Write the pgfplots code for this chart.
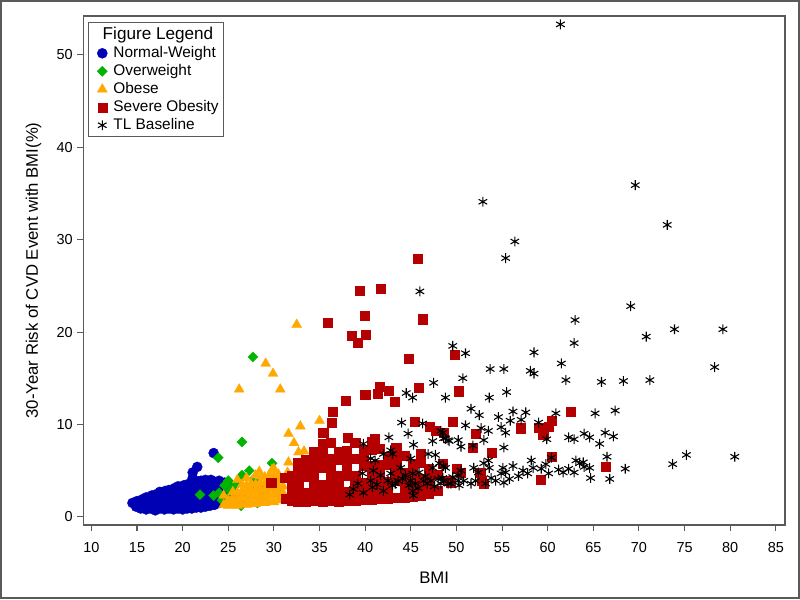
\documentclass[border=0pt]{standalone}
\usepackage{pgfplots}
\pgfplotsset{compat=1.18}
\usepackage{fontspec}
\setmainfont{Liberation Sans}
\definecolor{nwblue}{HTML}{0000B4}
\definecolor{owgreen}{HTML}{00B400}
\definecolor{oborange}{HTML}{FFA800}
\definecolor{sored}{HTML}{B40000}
\definecolor{framegray}{HTML}{5A5A5A}
\begin{document}
\begin{tikzpicture}
\begin{axis}[
  name=ax,
  scale only axis,
  width=524pt, height=380pt,
  xmin=9.12, xmax=86, ymin=-0.87, ymax=54.2,
  xtick={10,15,...,85}, ytick={0,10,...,50},
  tick align=outside, xtick pos=bottom, ytick pos=left,
  major tick length=4.5pt,
  axis line style={draw=framegray, line width=1.1pt},
  tick style={draw=framegray, line width=0.8pt},
  tick label style={font=\fontsize{10.8}{12}\selectfont},
  xticklabel style={yshift=-5pt},
  /pgf/number format/assume math mode=true,
  xlabel={BMI},
  ylabel={30-Year Risk of CVD Event with BMI(\%)},
  label style={font=\fontsize{12.5}{14}\selectfont},
  xlabel style={yshift=-7.5pt},
  ylabel style={yshift=4.5pt},
  legend style={at={(0.007,0.988)}, anchor=north west, draw=framegray,
    line width=0.9pt, font=\fontsize{11.5}{12}\selectfont, inner sep=1.5pt,
    row sep=-0.4pt, column sep=2.5pt},
  legend cell align=left,
]
\addlegendimage{empty legend}
\addlegendentry{\hspace{-8pt}\fontsize{12.8}{14}\selectfont Figure Legend}

% Normal-Weight
\addplot[only marks, mark=*, mark size=3.8pt, color=nwblue, line width=0.2pt] coordinates {
(14.5,1.5) (14.9,1.1) (15.0,1.7) (15.4,0.9) (15.5,1.4) (15.6,1.9)
(16.0,0.8) (16.0,1.3) (16.1,1.8) (16.0,2.1) (16.5,0.9) (16.5,1.4) (16.4,1.9) (16.6,2.3)
(17.0,0.7) (17.0,1.3) (17.1,1.8) (17.0,2.4) (17.5,0.9) (17.5,1.4) (17.4,1.9) (17.6,2.4) (17.5,2.7)
(18.0,0.8) (18.0,1.3) (18.1,1.8) (18.0,2.3) (18.1,2.8) (18.5,0.9) (18.5,1.4) (18.4,1.9) (18.6,2.4) (18.5,2.9)
(19.0,0.8) (19.0,1.3) (19.1,1.8) (19.0,2.3) (18.9,2.8) (19.1,3.1)
(19.5,0.9) (19.5,1.4) (19.4,1.9) (19.6,2.4) (19.5,2.9) (19.5,3.3)
(20.0,0.8) (20.0,1.4) (20.1,1.9) (20.0,2.4) (20.0,2.9) (20.1,3.4)
(20.5,0.9) (20.5,1.4) (20.4,1.9) (20.6,2.4) (20.5,2.9) (20.5,3.5)
(21.0,0.9) (21.0,1.4) (21.1,1.9) (21.0,2.4) (21.0,2.9) (21.1,3.4) (21.0,3.8)
(21.5,1.0) (21.5,1.5) (21.4,2.0) (21.6,2.5) (21.5,3.0) (21.5,3.5) (21.5,3.9)
(22.0,1.0) (22.0,1.5) (22.1,2.0) (22.0,2.5) (22.0,3.0) (22.1,3.5) (22.0,3.9)
(22.5,1.1) (22.5,1.6) (22.4,2.1) (22.6,2.6) (22.5,3.1) (22.5,3.6) (22.5,4.0)
(23.0,1.2) (23.0,1.7) (23.1,2.2) (23.0,2.7) (23.0,3.2) (23.0,3.7) (23.1,4.0)
(23.5,1.3) (23.5,1.8) (23.4,2.3) (23.6,2.8) (23.5,3.3) (23.5,3.8)
(24.0,1.5) (24.0,2.0) (24.1,2.5) (24.0,3.0) (24.0,3.5) (24.0,3.9)
(24.5,2.0) (24.5,2.6) (24.5,3.2) (24.6,3.7) (25.0,2.8) (25.1,3.5)
(21.1,4.2) (21.1,4.8) (21.6,5.4) (23.4,6.9)
};
\addlegendentry{Normal-Weight}

% Overweight
\addplot[only marks, mark=square*, mark options={rotate=45}, mark size=2.7pt, color=owgreen, line width=0.2pt] coordinates {
(21.9,2.4) (23.4,2.3) (24.0,2.6) (24.3,1.8) (24.9,2.0) (25.2,2.8) (25.5,3.2) (25.0,3.9)
(24.6,3.4) (25.8,2.4) (26.0,1.6) (26.1,3.7) (26.5,4.5) (26.7,2.5) (27.0,1.9) (27.4,3.2)
(27.7,4.0) (28.0,3.9) (28.2,1.5) (28.6,3.0) (29.0,2.2) (29.5,3.5) (29.8,5.8) (23.9,6.4)
(26.5,8.1) (27.7,17.3) (26.4,1.2) (27.3,5.0) (30.3,2.8)
};
\addlegendentry{Overweight}

% Obese
\addplot[only marks, mark=triangle*, mark size=4.3pt, color=oborange, line width=0.2pt] coordinates {
(32.5,20.8) (29.1,16.6) (29.9,15.5) (26.2,13.8) (30.7,13.8) (35.0,10.4) (32.9,9.8)
(31.6,9.0) (32.2,8.0) (32.7,7.0) (33.3,7.1) (31.6,5.9) (28.4,4.9) (29.8,5.1)
(24.5,1.3) (24.5,2.3) (25.0,1.2) (25.0,1.8) (25.5,1.4) (25.5,2.0) (25.5,2.7)
(26.0,1.2) (26.0,1.9) (26.0,2.6) (26.0,4.0) (26.5,1.4) (26.5,2.1) (26.5,2.8) (26.5,3.5)
(27.0,1.3) (27.0,2.0) (27.0,2.7) (27.0,3.4) (27.0,4.2) (27.5,1.5) (27.5,2.2) (27.5,2.9) (27.5,3.6)
(28.0,1.4) (28.0,2.1) (28.0,2.8) (28.0,3.5) (28.0,4.5) (28.5,1.6) (28.5,2.3) (28.5,3.0) (28.5,3.7) (28.5,4.4)
(29.0,1.5) (29.0,2.2) (29.0,2.9) (29.0,3.6) (29.0,4.3) (29.5,1.7) (29.5,2.4) (29.5,3.1) (29.5,3.8) (29.5,4.5)
(30.0,1.6) (30.0,2.3) (30.0,3.0) (30.0,3.7) (30.0,4.4) (30.0,5.2)
(30.5,1.8) (30.5,2.5) (30.5,3.2) (30.5,3.9) (30.5,4.6)
(31.0,1.9) (31.0,2.6) (31.0,3.3) (31.0,4.0) (31.5,4.8) (32.0,2.8) (32.0,3.5) (32.5,4.3) (33.0,3.0)
};
\addlegendentry{Obese}

% Severe Obesity
\addplot[only marks, mark=square*, mark size=3.4pt, color=sored, line width=0.2pt] coordinates {
(31.3,2.0)
(31.9,1.8) (31.9,2.7) (31.9,3.6) (32.0,4.5)
(32.6,1.7) (32.6,2.6) (32.7,3.5) (32.6,4.4) (32.6,5.3) (32.6,5.9)
(33.5,1.7) (33.5,2.6) (33.5,4.4) (33.5,5.3) (33.5,6.2)
(34.4,1.8) (34.4,2.7) (34.4,3.6) (34.4,4.5) (34.4,5.4) (34.4,6.3) (34.4,7.1)
(35.3,1.7) (35.3,2.6) (35.3,3.5) (35.3,5.3) (35.3,6.2) (35.3,7.1) (35.3,7.9)
(36.2,1.8) (36.2,2.7) (36.2,3.6) (36.2,4.6) (36.2,5.4) (36.2,6.3) (36.2,8.0)
(37.1,1.7) (37.1,2.6) (37.1,3.5) (37.1,4.4) (37.1,6.2) (37.1,7.1)
(38.0,1.8) (38.0,2.7) (38.0,4.5) (38.0,5.4) (38.0,6.3) (38.0,7.2)
(38.9,1.8) (38.9,2.7) (38.9,3.6) (38.9,4.5) (38.9,6.3) (38.9,8.0)
(39.8,1.9) (39.8,2.8) (39.8,3.7) (39.8,5.5) (39.8,6.4) (39.8,7.3)
(40.7,1.9) (40.7,2.8) (40.7,3.7) (40.7,4.6) (40.7,5.5) (40.7,7.3) (40.7,8.1)
(41.6,2.0) (41.6,2.9) (41.6,3.8) (41.6,4.7) (41.6,5.6) (41.6,7.4)
(42.5,2.0) (42.5,2.9) (42.5,3.8) (42.5,5.6) (42.5,6.5)
(43.4,2.1) (43.4,3.9) (43.4,4.8) (43.4,5.7) (43.4,6.6) (43.4,7.5)
(44.3,2.1) (44.3,3.0) (44.3,3.9) (44.3,4.8) (44.3,6.6)
(45.2,2.2) (45.2,3.1) (45.2,4.0) (45.2,4.9) (45.2,5.8)
(46.1,2.3) (46.1,3.2) (46.1,4.1) (46.1,5.9) (46.1,6.8)
(47.0,2.5) (47.0,3.4) (47.0,4.3) (47.0,5.2) (47.9,2.8) (47.9,4.6)
(45.8,27.9) (39.4,24.5) (41.7,24.7) (39.9,21.8) (35.9,21.0) (46.3,21.4) (38.5,19.6) (39.2,18.9)
(40.1,19.7) (44.8,17.1) (49.8,17.6) (41.6,14.1) (42.6,13.7) (41.4,13.3) (40.0,13.2) (37.9,12.6)
(43.2,12.5) (45.9,14.0) (50.2,13.6) (36.4,11.4) (36.3,10.2) (45.4,10.3) (49.6,10.3) (35.4,9.1)
(38.1,8.6) (41.0,8.5) (47.1,9.8) (47.7,9.3) (48.6,9.1) (52.1,9.0) (51.8,7.5) (53.9,6.9)
(57.0,9.6) (59.0,9.7) (60.1,9.8) (60.4,10.4) (59.5,8.9) (62.5,11.4) (60.4,6.5) (59.2,4.0)
(66.4,5.4) (50.0,5.2) (50.5,4.8) (52.6,4.8) (52.8,3.9) (53.0,3.6) (48.5,5.8) (49.0,3.9)
(49.4,3.7) (29.7,3.7) (31.2,4.2)
};
\addlegendentry{Severe Obesity}

% TL Baseline
\addplot[only marks, mark=asterisk, mark size=3.7pt, color=black, line width=0.8pt] coordinates {
(61.4,53.3) (69.6,35.9) (73.1,31.6) (52.9,34.1) (56.4,29.8) (55.4,28.0) (46.0,24.4) (69.1,22.8)
(63.0,21.3) (62.9,18.8) (70.8,19.5) (73.9,20.3) (79.2,20.3) (78.3,16.2) (58.5,17.8) (61.5,16.6)
(49.6,18.5) (51.0,17.7) (53.7,16.0) (55.2,16.0) (58.1,15.8) (58.5,15.5) (62.0,14.8) (65.9,14.6)
(68.3,14.7) (71.2,14.8) (50.7,15.0) (47.5,14.5) (48.8,12.9) (44.5,13.4) (45.2,12.9) (53.6,12.9)
(55.5,13.5) (51.6,11.7) (52.5,11.0) (54.6,10.8) (56.2,11.4) (57.6,11.3) (55.9,10.4) (57.1,10.5)
(60.9,11.2) (65.2,11.2) (67.4,11.5) (59.0,10.2) (44.0,10.2) (46.3,10.1) (44.7,9.0) (42.6,8.6)
(39.8,7.9) (48.5,9.1) (48.8,8.5) (49.2,8.2) (47.4,8.2) (45.3,7.8) (46.9,6.8) (47.7,6.7)
(45.0,6.3) (42.8,7.2) (42.0,6.8) (43.0,6.8) (40.6,6.3) (41.1,6.1) (39.7,4.7) (38.7,3.0)
(40.9,5.0) (42.8,4.7) (41.7,4.5) (43.9,5.3) (45.2,4.7) (45.9,4.8) (46.4,3.9) (45.5,3.6)
(45.0,3.9) (43.3,3.6) (43.0,3.4) (43.6,3.9) (44.1,4.1) (47.2,3.9) (48.0,4.1) (48.6,3.9)
(49.4,3.6) (50.2,3.9) (48.8,5.3) (40.6,3.9) (40.8,3.2) (39.8,2.6) (42.5,3.9) (42.0,2.8)
(45.3,2.3) (45.2,2.8) (47.4,5.3) (48.1,5.8) (51.0,9.9) (52.7,9.6) (53.5,9.3) (54.9,9.7)
(55.4,9.1) (53.0,8.3) (55.2,7.5) (59.9,8.4) (62.3,8.6) (62.9,8.4) (64.0,9.0) (64.6,8.6)
(66.3,9.1) (67.2,8.7) (65.7,7.9) (48.6,8.5) (49.1,8.3) (50.2,8.3) (50.5,7.6) (48.3,9.3)
(51.8,7.7) (53.0,5.8) (53.6,5.3) (53.5,6.1) (51.9,5.3) (52.4,4.8) (50.5,5.0) (50.2,4.5)
(48.6,5.5) (48.5,4.2) (49.1,3.6) (50.3,3.4) (51.6,3.6) (52.1,3.9) (53.2,3.6) (53.8,4.2)
(54.9,4.7) (55.4,4.8) (55.8,4.1) (55.1,5.3) (56.2,5.5) (55.2,3.7) (57.3,5.0) (58.2,6.1)
(58.4,5.3) (59.3,5.2) (60.1,4.7) (60.4,6.4) (61.2,5.1) (61.7,4.8) (62.3,5.2) (63.1,6.1)
(63.5,5.8) (64.0,5.4) (64.6,5.3) (62.9,4.8) (66.5,6.5) (63.9,5.9) (68.5,5.2) (64.7,4.2)
(66.8,4.1) (73.7,5.7) (75.2,6.7) (80.5,6.5)
(44.8,3.4) (45.8,3.1) (46.8,3.6) (47.6,3.3) (48.3,3.6) (49.6,4.3) (50.8,3.9) (46.6,4.4)
(44.4,4.5) (41.3,3.5) (39.2,3.6) (38.3,2.4) (54.3,3.9) (56.8,4.4) (57.8,4.7) (59.8,5.7)
};
\addlegendentry{TL Baseline}
\end{axis}
\draw[framegray, line width=1.5pt] ([xshift=-61.5pt,yshift=-54.75pt]ax.south west) rectangle ([xshift=10.5pt,yshift=11.25pt]ax.north east);
\end{tikzpicture}
\end{document}
